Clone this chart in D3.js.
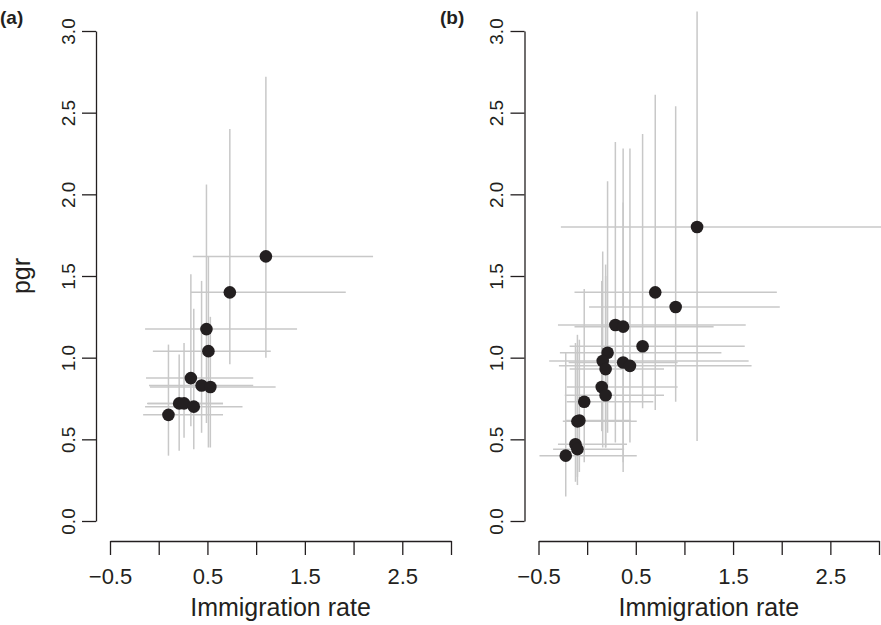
<!DOCTYPE html>
<meta charset="utf-8">
<head>
<style>
    body { margin: 0; background: #fff; }
    text { font-family: "Liberation Sans", Arial, sans-serif; fill: #231f20; }
    .tick line, .domain { stroke: #231f20; stroke-width: 1.3; }
</style>
</head>
<body>
<div class="chart"></div>
<script src="https://d3js.org/d3.v4.min.js"></script>
<script>
// axis ticks
var xTicks = [-0.5, 0, 0.5, 1, 1.5, 2, 2.5, 3];
var xTickLabels = ["\u22120.5", "", "0.5", "", "1.5", "", "2.5", ""];
var yTicks = [0, 0.5, 1, 1.5, 2, 2.5, 3];
var yTickLabels = ["0.0", "0.5", "1.0", "1.5", "2.0", "2.5", "3.0"];

// panel (a): estimate and bars
var aX    = [1.10, 0.73, 0.49, 0.51, 0.33, 0.44, 0.53, 0.21, 0.26, 0.36, 0.10];
var aY    = [1.62, 1.40, 1.175, 1.04, 0.875, 0.83, 0.82, 0.72, 0.72, 0.70, 0.65];
var aXlo  = [0.35, 0.33, -0.14, -0.06, -0.13, -0.10, -0.09, -0.11, -0.12, -0.14, -0.16];
var aXhi  = [2.20, 1.92, 1.42, 1.15, 0.97, 0.97, 1.20, 0.66, 0.66, 0.86, 0.66];
var aYlo  = [1.00, 0.96, 0.60, 0.45, 0.58, 0.54, 0.45, 0.43, 0.51, 0.44, 0.40];
var aYhi  = [2.72, 2.40, 2.06, 1.62, 1.51, 1.47, 1.25, 1.02, 1.09, 1.30, 1.08];

// panel (b)
var bX    = [1.13, 0.70, 0.91, 0.29, 0.37, 0.57, 0.21, 0.16, 0.37, 0.44, 0.19, 0.15, 0.19, -0.03, -0.10, -0.08, -0.12, -0.10, -0.22];
var bY    = [1.80, 1.40, 1.31, 1.20, 1.19, 1.07, 1.03, 0.98, 0.97, 0.95, 0.93, 0.82, 0.77, 0.73, 0.61, 0.615, 0.47, 0.44, 0.40];
var bXlo  = [-0.27, -0.13, 0.02, -0.30, -0.13, -0.18, -0.28, -0.39, -0.19, -0.29, -0.18, -0.21, -0.23, -0.21, -0.25, -0.22, -0.30, -0.35, -0.49];
var bXhi  = [3.30, 1.95, 1.98, 1.63, 1.30, 1.62, 1.38, 1.66, 0.93, 1.69, 0.79, 0.93, 0.79, 0.68, 0.51, 0.45, 0.41, 0.38, 0.51];
var bYlo  = [0.49, 0.68, 0.73, 0.48, 0.36, 0.69, 0.54, 0.45, 0.30, 0.48, 0.45, 0.55, 0.45, 0.36, 0.27, 0.30, 0.24, 0.22, 0.15];
var bYhi  = [3.12, 2.61, 2.54, 2.32, 2.28, 2.37, 2.08, 1.65, 1.95, 2.28, 1.57, 1.47, 1.50, 1.42, 1.14, 1.11, 1.09, 1.05, 1.03];

var W = 881, H = 625;
var svg = d3.select(".chart").append("svg")
    .attr("width", W)
    .attr("height", H);

function rows(x, y, xlo, xhi, ylo, yhi) {
    return x.map(function (d, i) {
        return {x: d, y: y[i], xlo: xlo[i], xhi: xhi[i], ylo: ylo[i], yhi: yhi[i]};
    });
}

function draw_panel(data, o) {
    var x = d3.scaleLinear().domain([-0.5, 3]).range([o.x0, o.x1]);
    var y = d3.scaleLinear().domain([0, 3]).range([521, 31]);
    var g = svg.append("g");

    // grey intervals
    g.selectAll(".hbar").data(data).enter().append("line")
        .attr("x1", function (d) { return x(d.xlo); })
        .attr("x2", function (d) { return x(d.xhi); })
        .attr("y1", function (d) { return y(d.y); })
        .attr("y2", function (d) { return y(d.y); })
        .style("stroke", "#c8c8c8").style("stroke-width", 1.5);
    g.selectAll(".vbar").data(data).enter().append("line")
        .attr("x1", function (d) { return x(d.x); })
        .attr("x2", function (d) { return x(d.x); })
        .attr("y1", function (d) { return y(d.ylo); })
        .attr("y2", function (d) { return y(d.yhi); })
        .style("stroke", "#c8c8c8").style("stroke-width", 1.5);

    g.selectAll(".pt").data(data).enter().append("circle")
        .attr("cx", function (d) { return x(d.x); })
        .attr("cy", function (d) { return y(d.y); })
        .attr("r", 6.3)
        .style("fill", "#231f20");

    // x axis
    var xa = svg.append("g").attr("transform", "translate(0,541)")
        .call(d3.axisBottom(x).tickValues(xTicks).tickSize(14).tickSizeOuter(0)
            .tickFormat(function (d, i) { return xTickLabels[i]; }));
    xa.selectAll("text").attr("y", 43).attr("dy", null).style("font-size", "22px");

    // y axis
    var ya = svg.append("g").attr("transform", "translate(" + o.ax + ",0)")
        .call(d3.axisLeft(y).tickValues(yTicks).tickSize(14).tickSizeOuter(0)
            .tickFormat(function (d, i) { return yTickLabels[i]; }));
    ya.selectAll("text")
        .attr("x", null).attr("dy", null)
        .attr("transform", "translate(-21.5,0) rotate(-90)")
        .attr("text-anchor", "middle")
        .style("font-size", "19px");
    svg.selectAll(".domain").style("fill", "none");

    svg.append("text")
        .attr("x", (o.x0 + o.x1) / 2).attr("y", 616)
        .attr("text-anchor", "middle")
        .style("font-size", "25px")
        .text("Immigration rate");

    svg.append("text")
        .attr("x", o.lx).attr("y", 24)
        .style("font-size", "19px").style("font-weight", "bold")
        .text(o.label);
}

draw_panel(rows(aX, aY, aXlo, aXhi, aYlo, aYhi), {x0: 110, x1: 451, ax: 96, lx: 0, label: "(a)"});
draw_panel(rows(bX, bY, bXlo, bXhi, bYlo, bYhi), {x0: 538.5, x1: 879, ax: 524.5, lx: 440, label: "(b)"});

svg.append("text")
    .attr("transform", "translate(30,276) rotate(-90)")
    .attr("text-anchor", "middle")
    .style("font-size", "25px")
    .text("pgr");
</script>
</body>
